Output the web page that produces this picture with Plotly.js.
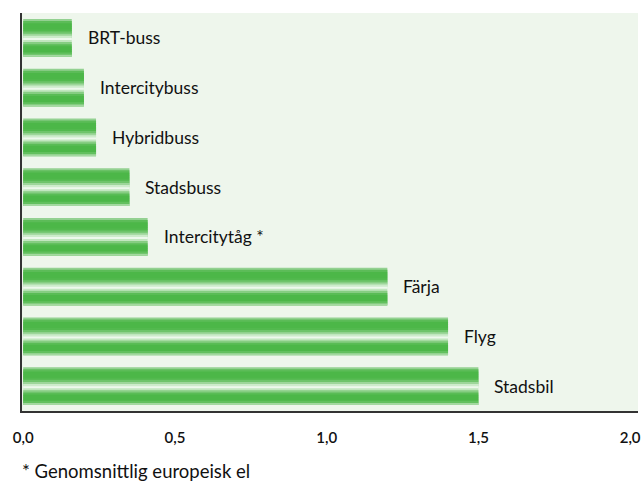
<!DOCTYPE html>
<html>
<head>
<meta charset="utf-8">
<script src="https://cdn.plot.ly/plotly-3.0.1.min.js"></script>
<style>html,body{margin:0;padding:0;background:#fff;}#chart{width:643px;height:486px;}</style>
</head>
<body>
<div id="chart"></div>
<script>
// Data
var categories = ["BRT-buss", "Intercitybuss", "Hybridbuss", "Stadsbuss", "Intercitytåg *", "Färja", "Flyg", "Stadsbil"];
var values = [0.16, 0.20, 0.24, 0.35, 0.41, 1.20, 1.40, 1.50];
var tickValues = [0, 0.5, 1.0, 1.5, 2.0];
var footnote = "* Genomsnittlig europeisk el";

// Stripe colours (top to bottom) to mimic the shaded bar look
var stripeColors = [
  "#93d191", "#5cbc58", "#4cb748", "#4cb748", "#4cb748", "#52b94e",
  "#6ec46a", "#9dd69a", "#cdebcb", "#eef8ed", "#c2e6bf", "#86cd82",
  "#5abc56", "#4cb748", "#4cb748", "#4cb748", "#62c05e", "#a3d8a0"
];
var barWidth = 0.76;
var n = stripeColors.length;
var sw = barWidth / n;

var traces = stripeColors.map(function (c, i) {
  return {
    type: "bar",
    orientation: "h",
    x: values,
    y: categories,
    width: i === n - 1 ? sw : sw * 2,
    offset: -barWidth / 2 + i * sw,
    marker: { color: c, line: { width: 0 } },
    hoverinfo: "skip",
    showlegend: false
  };
});

var textFont = { family: "Lato, 'DejaVu Sans', sans-serif", size: 17.5, color: "#111111" };

var annotations = categories.map(function (cat, i) {
  return {
    x: values[i], y: cat, xref: "x", yref: "y",
    text: cat, showarrow: false,
    xanchor: "left", yanchor: "middle", xshift: 14,
    font: textFont
  };
});
annotations.push({
  x: -0.004, y: -0.15, xref: "paper", yref: "paper",
  text: footnote, showarrow: false, xanchor: "left", yanchor: "middle",
  font: { family: "Lato, 'DejaVu Sans', sans-serif", size: 18.5, color: "#111111" }
});

var layout = {
  width: 643, height: 486,
  margin: { l: 22, r: 5, t: 13, b: 75 },
  paper_bgcolor: "#ffffff",
  plot_bgcolor: "#eef6ec",
  barmode: "overlay",
  separators: ", ",
  showlegend: false,
  xaxis: {
    range: [-0.004, 2.026],
    tickvals: tickValues,
    tickformat: ".1f",
    showgrid: false, zeroline: false,
    showline: true, linecolor: "#333333", linewidth: 2,
    ticks: "", ticklabelstandoff: 12,
    tickfont: { family: "Lato, 'DejaVu Sans', sans-serif", size: 15, color: "#111111", weight: 600 }
  },
  yaxis: {
    type: "category",
    autorange: "reversed",
    showticklabels: false,
    showgrid: false, zeroline: false,
    showline: true, linecolor: "#333333", linewidth: 2,
    layer: "below traces",
    ticks: ""
  },
  annotations: annotations
};

Plotly.newPlot("chart", traces, layout, { displayModeBar: false, staticPlot: true });
</script>
</body>
</html>
